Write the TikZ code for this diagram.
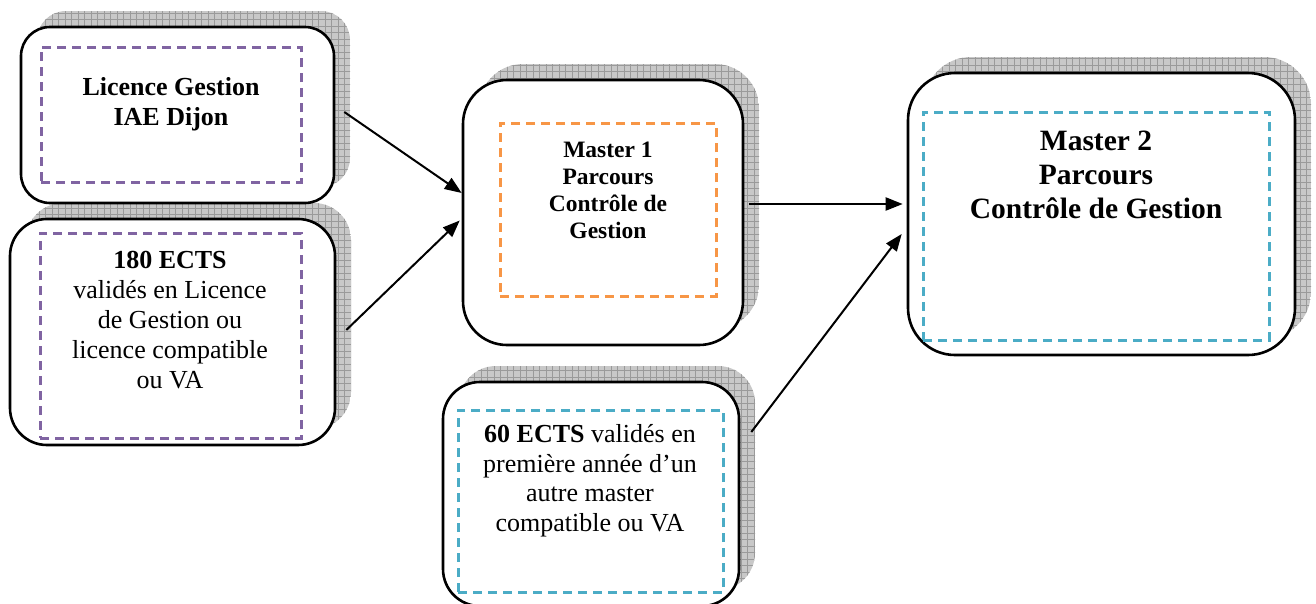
\documentclass[tikz,border=0pt]{standalone}
\usepackage{fontspec}
\setmainfont{Liberation Serif}
\usetikzlibrary{arrows.meta}
\definecolor{dpurple}{HTML}{8064A2}
\definecolor{dorange}{HTML}{F79646}
\definecolor{dcyan}{HTML}{4BACC6}
\definecolor{shfill}{HTML}{C8C8C8}
\definecolor{shgrid}{HTML}{9A9A9A}
\newcommand{\shadowrect}[5]{%
  \begin{scope}
    \path[clip, rounded corners=#5] (#1+16,#2-16) rectangle (#3+16,#4-16);
    \fill[shfill] (#1+16,#2-16) rectangle (#3+16,#4-16);
    \draw[shgrid, line width=0.7pt, step=6.5pt] (#1,#2-30) grid (#3+30,#4);
  \end{scope}}
\tikzset{
  outerbox/.style={draw=black, line width=2.6pt, fill=white, inner sep=0pt},
  innerbox/.style={draw=#1, dash pattern=on 9pt off 6pt, line width=3pt, inner sep=0pt},
  arr/.style={line width=2pt, -{Triangle[length=17pt,width=13pt]}},
  txt/.style={align=center, inner sep=0pt, anchor=base}
}
\begin{document}
\begin{tikzpicture}[x=1pt,y=-1pt]
\useasboundingbox (0,0) rectangle (1316,603);
% shadows
\shadowrect{21}{27}{334}{203}{29pt}
\shadowrect{10}{219}{335}{445}{37pt}
\shadowrect{463}{80}{743}{345}{44pt}
\shadowrect{443}{382}{739}{606}{37pt}
\shadowrect{908}{73}{1295}{355}{47pt}
% outer boxes
\node[outerbox, rounded corners=29pt, minimum width=313pt, minimum height=176pt] (lic) at (177.5,115) {};
\node[outerbox, rounded corners=37pt, minimum width=325pt, minimum height=226pt] (ects) at (172.5,332) {};
\node[outerbox, rounded corners=44pt, minimum width=280pt, minimum height=265pt] (mI) at (603,212.5) {};
\node[outerbox, rounded corners=37pt, minimum width=296pt, minimum height=224pt] (ectsII) at (591,494) {};
\node[outerbox, rounded corners=47pt, minimum width=387pt, minimum height=282pt] (mII) at (1101.5,214) {};
% inner dashed boxes
\node[innerbox=dpurple, minimum width=260pt, minimum height=135pt] (licD) at (171,114.5) {};
\node[innerbox=dpurple, minimum width=261pt, minimum height=205pt] (ectsD) at (170.5,335.5) {};
\node[innerbox=dorange, minimum width=216pt, minimum height=173pt] (mID) at (608,209.5) {};
\node[innerbox=dcyan, minimum width=265pt, minimum height=182pt] (ectsIID) at (590.5,501) {};
\node[innerbox=dcyan, minimum width=346pt, minimum height=228pt] (mIID) at (1096,226) {};
% texts (base = baseline of last line)
\node[txt, font=\fontsize{26}{30}\selectfont\bfseries] (licT) at (171,125) {Licence Gestion\\IAE Dijon};
\node[txt, font=\fontsize{26}{30}\selectfont] (ectsT) at (170,388) {\textbf{180 ECTS}\\validés en Licence\\de Gestion ou\\licence compatible\\ou VA};
\node[txt, font=\fontsize{23.5}{27}\selectfont\bfseries] (mIT) at (608,238) {Master 1\\Parcours\\Contrôle de\\Gestion};
\node[txt, font=\fontsize{26}{29.5}\selectfont] (ectsIIT) at (590,531) {\textbf{60 ECTS} validés en\\première année d’un\\autre master\\compatible ou VA};
\node[txt, font=\fontsize{29.5}{34}\selectfont\bfseries] (mIIT) at (1096,218) {Master 2\\Parcours\\Contrôle de Gestion};
% arrows
\draw[arr] ([shift={(9,-3)}]lic.east) -- ([shift={(0,-19.5)}]mI.west);
\draw[arr] ([shift={(10,-2)}]ects.east) -- ([shift={(-2,8)}]mI.west);
\draw[arr] ([shift={(5,-8.5)}]mI.east) -- ([shift={(-4,-10)}]mII.west);
\draw[arr] ([shift={(11,-62)}]ectsII.east) -- ([shift={(-5,20)}]mII.west);
\end{tikzpicture}
\end{document}
